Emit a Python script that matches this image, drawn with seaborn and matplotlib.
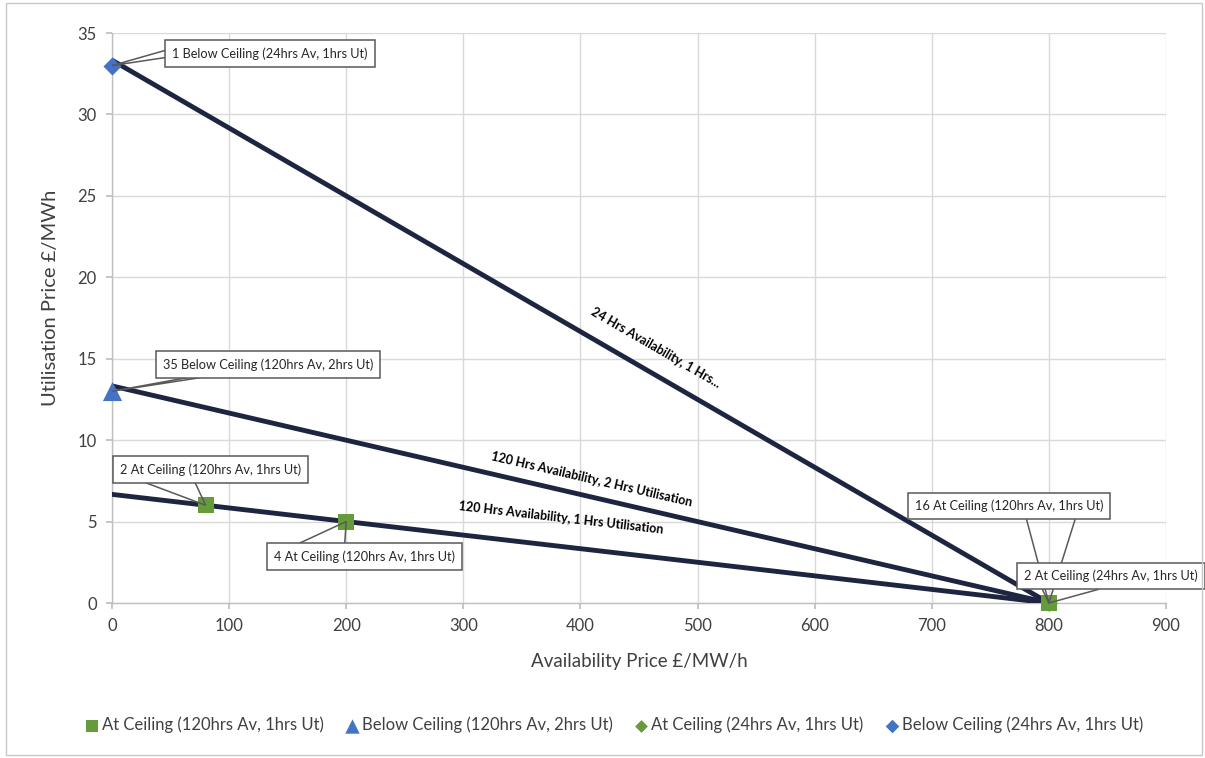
import numpy as np
import pandas as pd
import seaborn as sns
import matplotlib.pyplot as plt
from matplotlib.patches import Rectangle, Polygon

# Price-ceiling lines: availability price (x) vs utilisation price (y)
line_names = [
    "24 Hrs Availability, 1 Hrs...",
    "120 Hrs Availability, 2 Hrs Utilisation",
    "120 Hrs Availability, 1 Hrs Utilisation",
]
line_x0 = [0, 0, 0]
line_y0 = [33.33, 13.33, 6.67]
line_x1 = [800, 800, 800]
line_y1 = [0, 0, 0]

# Tender points
pt_series = [
    "Below Ceiling (24hrs Av, 1hrs Ut)",
    "Below Ceiling (120hrs Av, 2hrs Ut)",
    "At Ceiling (120hrs Av, 1hrs Ut)",
    "At Ceiling (120hrs Av, 1hrs Ut)",
    "At Ceiling (120hrs Av, 1hrs Ut)",
    "At Ceiling (24hrs Av, 1hrs Ut)",
]
pt_x = [0, 0, 80, 200, 800, 800]
pt_y = [33, 13, 6, 5, 0, 0]
pt_count = [1, 35, 2, 4, 16, 2]

legend_order = [
    "At Ceiling (120hrs Av, 1hrs Ut)",
    "Below Ceiling (120hrs Av, 2hrs Ut)",
    "At Ceiling (24hrs Av, 1hrs Ut)",
    "Below Ceiling (24hrs Av, 1hrs Ut)",
]
GREEN = "#659B3A"
BLUE = "#4472C4"
NAVY = "#1D2541"
series_colors = {legend_order[0]: GREEN, legend_order[1]: BLUE,
                 legend_order[2]: GREEN, legend_order[3]: BLUE}
series_markers = {legend_order[0]: "s", legend_order[1]: "^",
                  legend_order[2]: "D", legend_order[3]: "D"}
series_sizes = {legend_order[0]: 130, legend_order[1]: 190,
                legend_order[2]: 75, legend_order[3]: 85}

sns.set_theme(style="white")
plt.rcParams["font.family"] = ["Lato", "DejaVu Sans"]

fig = plt.figure(figsize=(12.05, 7.58), dpi=100)
ax = fig.add_axes([112 / 1205, 1 - 603 / 758, (1166 - 112) / 1205, (603 - 33) / 758])

# outer chart border
fig.patches.append(Rectangle((6 / 1205, 3 / 758), 1196 / 1205, 752 / 758,
                             transform=fig.transFigure, fill=False,
                             ec="#C8C8C8", lw=1.0))

lines_df = pd.DataFrame({
    "name": np.repeat(line_names, 2),
    "x": np.ravel(np.column_stack([line_x0, line_x1])),
    "y": np.ravel(np.column_stack([line_y0, line_y1])),
})
sns.lineplot(data=lines_df, x="x", y="y", units="name", estimator=None,
             sort=False, color=NAVY, linewidth=3.5, ax=ax, legend=False, zorder=3)

pts_df = pd.DataFrame({"series": pt_series, "x": pt_x, "y": pt_y})
for s in legend_order:
    sub = pts_df[pts_df["series"] == s]
    sns.scatterplot(data=sub, x="x", y="y", marker=series_markers[s],
                    s=series_sizes[s], color=series_colors[s], linewidth=0,
                    ax=ax, label=s, zorder=5, clip_on=False)

ax.set_xlim(0, 900)
ax.set_ylim(0, 35)
ax.set_xticks(np.arange(0, 901, 100))
ax.set_yticks(np.arange(0, 36, 5))
ax.grid(True, color="#D9D9D9", linewidth=1.0)
ax.set_axisbelow(True)
for side in ["top", "right"]:
    ax.spines[side].set_visible(False)
for side in ["left", "bottom"]:
    ax.spines[side].set_color("#BFBFBF")
    ax.spines[side].set_linewidth(1.0)
ax.tick_params(axis="both", which="both", length=4, color="#BFBFBF",
               labelsize=12, labelcolor="#404040", pad=7, direction="out",
               left=True, bottom=True)
ax.set_xlabel("Availability Price £/MW/h", fontsize=13.5, color="#404040")
ax.set_ylabel("Utilisation Price £/MWh", fontsize=14.5, color="#404040")
ax.xaxis.set_label_coords(0.5, -0.1018)
ax.xaxis.label.set_va("center")
ax.yaxis.set_label_coords(-0.0588, 0.535)
ax.yaxis.label.set_va("center")

# line labels drawn along each line
lbl_x = [464, 410, 383]
lbl_y = [15.7, 7.6, 5.2]
for name, x0, y0, x1, y1, lx, ly in zip(line_names, line_x0, line_y0,
                                         line_x1, line_y1, lbl_x, lbl_y):
    ang = np.degrees(np.arctan2(y1 - y0, x1 - x0))
    ax.text(lx, ly, name, rotation=ang, transform_rotates_text=True,
            rotation_mode="anchor", ha="center", va="center",
            fontsize=9, fontweight="bold", color="black", zorder=6)

# call-out labels for each tender point (offsets in pixels)
offsets = [(158, 12), (156, 27), (5, 36), (18, -35), (-40, 97), (62, 27)]
# which box edge the pointer leaves from, and where along it (fractions)
ptr_edge = ["left", "bottom", "bottom", "top", "bottom", "bottom"]
ptr_frac = [(0.35, 0.62), (0.14, 0.20), (0.165, 0.42), (0.167, 0.40),
            (0.587, 0.827), (0.135, 0.435)]
callouts = []
for x, y, c, s, off in zip(pt_x, pt_y, pt_count, pt_series, offsets):
    t = ax.annotate(f"{c} {s}", xy=(x, y), xytext=off, textcoords="offset pixels",
                    ha="center", va="center", fontsize=9.2, color="#262626",
                    annotation_clip=False, zorder=8,
                    bbox=dict(boxstyle="square,pad=0.55", fc="white",
                              ec="#595959", lw=1.1))
    callouts.append(t)

fig.canvas.draw()
inv = ax.transData.inverted()
for t, x, y, edge, (f1, f2) in zip(callouts, pt_x, pt_y, ptr_edge, ptr_frac):
    bb = t.get_bbox_patch().get_window_extent()
    if edge == "left":
        b1 = (bb.x0, bb.y0 + f1 * bb.height)
        b2 = (bb.x0, bb.y0 + f2 * bb.height)
    elif edge == "bottom":
        b1 = (bb.x0 + f1 * bb.width, bb.y0)
        b2 = (bb.x0 + f2 * bb.width, bb.y0)
    else:
        b1 = (bb.x0 + f1 * bb.width, bb.y1)
        b2 = (bb.x0 + f2 * bb.width, bb.y1)
    tip = ax.transData.transform((x, y))
    verts = inv.transform([b1, tip, b2])
    ax.add_patch(Polygon(verts, closed=False, fill=False, ec="#595959",
                         lw=1.1, zorder=7, clip_on=False))

leg = ax.legend(loc="center", bbox_to_anchor=(613 / 1205, 1 - 725 / 758),
                bbox_transform=fig.transFigure, ncol=4, frameon=False,
                fontsize=12, handletextpad=0.1, columnspacing=1.2,
                markerscale=0.75, handlelength=1.0)
for t in leg.get_texts():
    t.set_color("#404040")

fig.savefig("out.png", dpi=100)
